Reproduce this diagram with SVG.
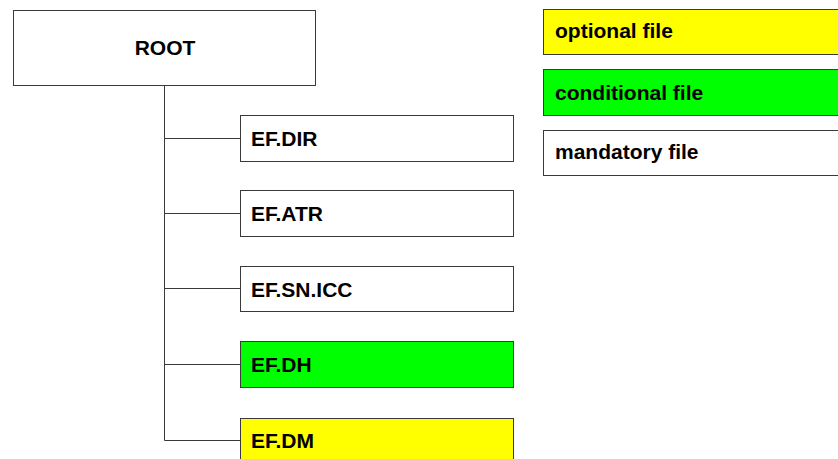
<svg xmlns="http://www.w3.org/2000/svg" width="838" height="459" viewBox="0 0 838 459">
  <style>
    .box { stroke: #3a3a3a; stroke-width: 1; }
    .mand { fill: #ffffff; }
    .cond { fill: #00ff00; }
    .opt { fill: #ffff00; }
    .lbl { font-family: "Liberation Sans", Arial, sans-serif; font-weight: bold; font-size: 21px; fill: #000000; }
    .wire { stroke: #3a3a3a; stroke-width: 1; fill: none; }
  </style>
  <rect width="838" height="459" fill="#ffffff"/>

  <!-- tree connectors -->
  <g id="connectors">
    <path class="wire" d="M164.5,85.5 V440.5"/>
    <path class="wire" d="M164.5,138.5 H240.5"/>
    <path class="wire" d="M164.5,213.5 H240.5"/>
    <path class="wire" d="M164.5,288.5 H240.5"/>
    <path class="wire" d="M164.5,364.5 H240.5"/>
    <path class="wire" d="M164.5,440.5 H240.5"/>
  </g>

  <g id="root">
    <rect class="box mand" x="13.5" y="10.5" width="302" height="75"/>
    <text class="lbl" x="165" y="54.5" text-anchor="middle">ROOT</text>
  </g>

  <g id="ef-dir">
    <rect class="box mand" x="240.5" y="115.5" width="273" height="46"/>
    <text class="lbl" x="251" y="145.5">EF.DIR</text>
  </g>
  <g id="ef-atr">
    <rect class="box mand" x="240.5" y="190.5" width="273" height="46"/>
    <text class="lbl" x="251" y="220.5">EF.ATR</text>
  </g>
  <g id="ef-sn-icc">
    <rect class="box mand" x="240.5" y="266.5" width="273" height="45"/>
    <text class="lbl" x="251" y="296.5">EF.SN.ICC</text>
  </g>
  <g id="ef-dh">
    <rect class="box cond" x="240.5" y="341.5" width="273" height="46"/>
    <text class="lbl" x="251" y="371.5">EF.DH</text>
  </g>
  <g id="ef-dm">
    <rect class="box opt" x="240.5" y="418.5" width="273" height="46"/>
    <text class="lbl" x="251" y="448">EF.DM</text>
  </g>

  <!-- legend -->
  <g id="legend-optional">
    <rect class="box opt" x="543.5" y="9.5" width="310" height="45"/>
    <text class="lbl" x="555" y="38">optional file</text>
  </g>
  <g id="legend-conditional">
    <rect class="box cond" x="543.5" y="69.5" width="310" height="46"/>
    <text class="lbl" x="555" y="99.5">conditional file</text>
  </g>
  <g id="legend-mandatory">
    <rect class="box mand" x="543.5" y="130.5" width="310" height="45"/>
    <text class="lbl" x="555" y="158.5">mandatory file</text>
  </g>
</svg>
